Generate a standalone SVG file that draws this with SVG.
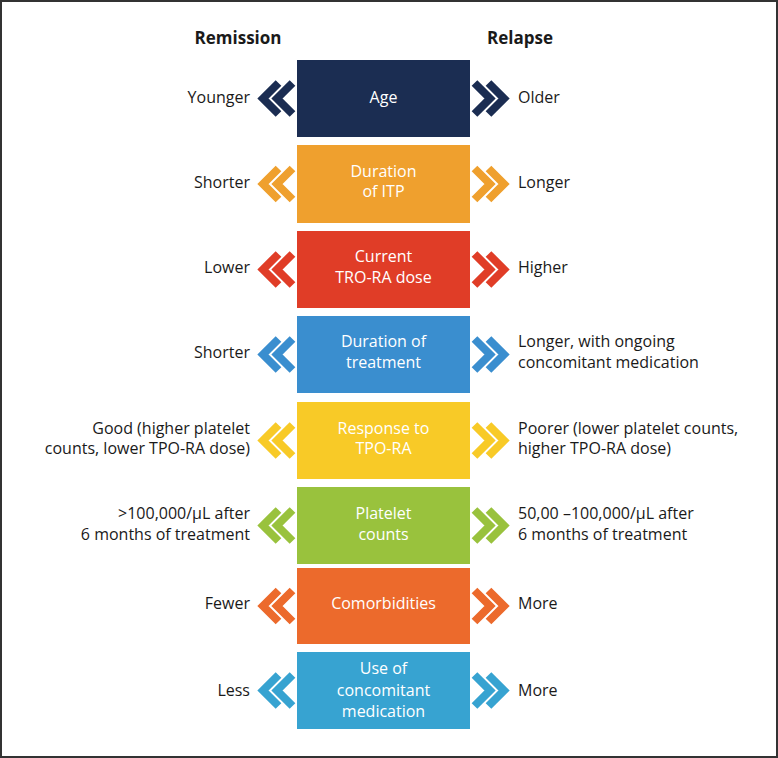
<svg xmlns="http://www.w3.org/2000/svg" xmlns:xlink="http://www.w3.org/1999/xlink" width="778" height="758" viewBox="0 0 778 758">
<style>
.box-t{font-family:"Open Sans","Noto Sans",sans-serif;font-size:16px;fill:#ffffff;text-anchor:middle}
.side{font-family:"Open Sans","Noto Sans",sans-serif;font-size:16px;fill:#1a1a1a}
.l{text-anchor:end}
.r{text-anchor:start}
.hdr{font-family:"Open Sans","Noto Sans",sans-serif;font-size:17px;font-weight:bold;fill:#1a1a1a;text-anchor:middle}
</style>
<defs>
<g id="dbl" fill="none" stroke-width="8" stroke-linejoin="miter" stroke-linecap="butt">
<polyline points="15.5,-15.5 0,0 15.5,15.5"/>
<polyline points="29.5,-15.5 14,0 29.5,15.5"/>
</g>
</defs>
<rect x="1" y="1" width="776" height="756" fill="#ffffff" stroke="#333333" stroke-width="2"/>
<text class="hdr" x="238" y="44">Remission</text>
<text class="hdr" x="520" y="44">Relapse</text>

<g id="age">
<rect x="297" y="60" width="173" height="77" fill="#1b2d52"/>
<text class="box-t" x="383.5" y="103">Age</text>
<text class="side l" x="250" y="103">Younger</text>
<text class="side r" x="518" y="103">Older</text>
</g>
<g id="itp">
<rect x="297" y="145" width="173" height="78" fill="#efa02e"/>
<text class="box-t" x="383.5" y="177">Duration</text>
<text class="box-t" x="383.5" y="197">of ITP</text>
<text class="side l" x="250" y="188">Shorter</text>
<text class="side r" x="518" y="188">Longer</text>
</g>
<g id="dose">
<rect x="297" y="231" width="173" height="77" fill="#e03d27"/>
<text class="box-t" x="383.5" y="262">Current</text>
<text class="box-t" x="383.5" y="283">TRO-RA dose</text>
<text class="side l" x="250" y="273">Lower</text>
<text class="side r" x="518" y="273">Higher</text>
</g>
<g id="treat">
<rect x="297" y="316" width="173" height="77" fill="#3a8ecf"/>
<text class="box-t" x="383.5" y="347">Duration of</text>
<text class="box-t" x="383.5" y="368">treatment</text>
<text class="side l" x="250" y="358">Shorter</text>
<text class="side r" x="518" y="347">Longer, with ongoing</text>
<text class="side r" x="518" y="368">concomitant medication</text>
</g>
<g id="response">
<rect x="297" y="402" width="173" height="77" fill="#f8ca27"/>
<text class="box-t" x="383.5" y="434">Response to</text>
<text class="box-t" x="383.5" y="454">TPO-RA</text>
<text class="side l" x="250" y="434">Good (higher platelet</text>
<text class="side l" x="250" y="454">counts, lower TPO-RA dose)</text>
<text class="side r" x="518" y="434">Poorer (lower platelet counts,</text>
<text class="side r" x="518" y="454">higher TPO-RA dose)</text>
</g>
<g id="platelet">
<rect x="297" y="487" width="173" height="77" fill="#99c23d"/>
<text class="box-t" x="383.5" y="519">Platelet</text>
<text class="box-t" x="383.5" y="540">counts</text>
<text class="side l" x="250" y="519">&gt;100,000/µL after</text>
<text class="side l" x="250" y="540">6 months of treatment</text>
<text class="side r" x="518" y="519">50,00 –100,000/µL after</text>
<text class="side r" x="518" y="540">6 months of treatment</text>
</g>
<g id="comorb">
<rect x="297" y="568" width="173" height="76" fill="#ec6a2c"/>
<text class="box-t" x="383.5" y="609">Comorbidities</text>
<text class="side l" x="250" y="609">Fewer</text>
<text class="side r" x="518" y="609">More</text>
</g>
<g id="conmed">
<rect x="297" y="652" width="173" height="77" fill="#37a3d1"/>
<text class="box-t" x="383.5" y="674">Use of</text>
<text class="box-t" x="383.5" y="696">concomitant</text>
<text class="box-t" x="383.5" y="717">medication</text>
<text class="side l" x="250" y="696">Less</text>
<text class="side r" x="518" y="696">More</text>
</g>

<g id="connectors">
<use xlink:href="#dbl" transform="translate(263,98.5)" stroke="#1b2d52"/>
<use xlink:href="#dbl" transform="translate(504,98.5) scale(-1,1)" stroke="#1b2d52"/>
<use xlink:href="#dbl" transform="translate(263,184)" stroke="#efa02e"/>
<use xlink:href="#dbl" transform="translate(504,184) scale(-1,1)" stroke="#efa02e"/>
<use xlink:href="#dbl" transform="translate(263,269.5)" stroke="#e03d27"/>
<use xlink:href="#dbl" transform="translate(504,269.5) scale(-1,1)" stroke="#e03d27"/>
<use xlink:href="#dbl" transform="translate(263,354.5)" stroke="#3a8ecf"/>
<use xlink:href="#dbl" transform="translate(504,354.5) scale(-1,1)" stroke="#3a8ecf"/>
<use xlink:href="#dbl" transform="translate(263,440.5)" stroke="#f8ca27"/>
<use xlink:href="#dbl" transform="translate(504,440.5) scale(-1,1)" stroke="#f8ca27"/>
<use xlink:href="#dbl" transform="translate(263,525.5)" stroke="#99c23d"/>
<use xlink:href="#dbl" transform="translate(504,525.5) scale(-1,1)" stroke="#99c23d"/>
<use xlink:href="#dbl" transform="translate(263,606)" stroke="#ec6a2c"/>
<use xlink:href="#dbl" transform="translate(504,606) scale(-1,1)" stroke="#ec6a2c"/>
<use xlink:href="#dbl" transform="translate(263,690.5)" stroke="#37a3d1"/>
<use xlink:href="#dbl" transform="translate(504,690.5) scale(-1,1)" stroke="#37a3d1"/>
</g>
</svg>
